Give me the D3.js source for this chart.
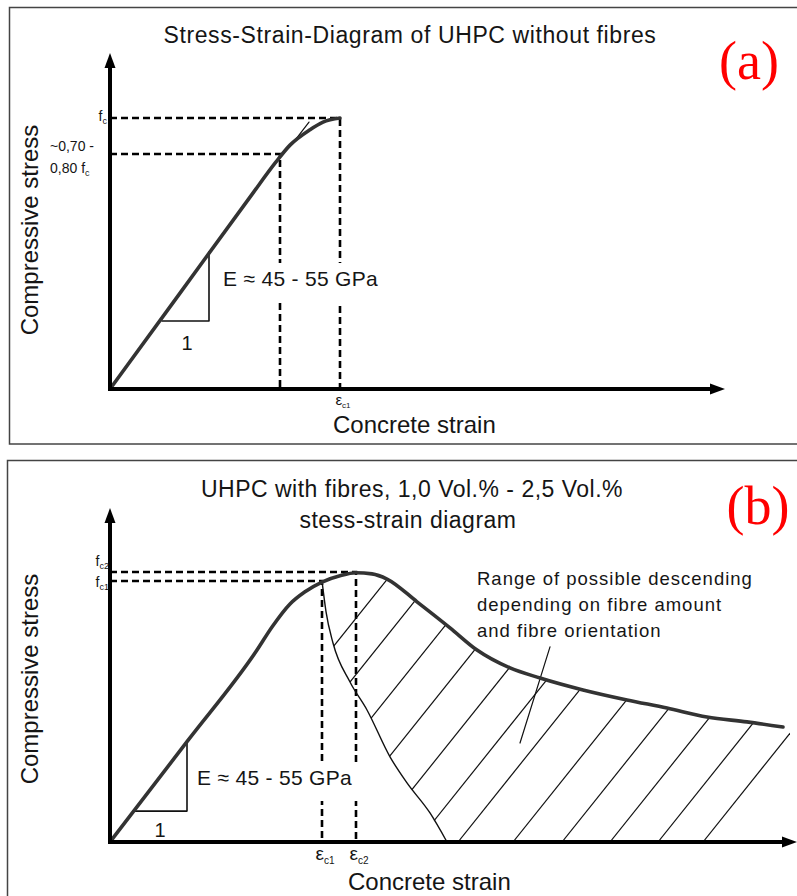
<!DOCTYPE html>
<html>
<head>
<meta charset="utf-8">
<script src="https://cdn.jsdelivr.net/npm/d3@7"></script>
<style>
  body { margin: 0; background: #fff; }
  svg { display: block; }
  text { font-family: "Liberation Sans", Arial, sans-serif; fill: #151515; }
  text.tag { font-family: "Liberation Serif", "Times New Roman", serif; fill: #f00; }
</style>
</head>
<body>
<div id="chart"></div>
<script>
// ---- panel (a): UHPC without fibres (strain units, stress as fraction of fc)
var curveA    = [[0, 0], [0.70, 0.354], [1.40, 0.708], [1.66, 0.838], [1.80, 0.900], [2.00, 0.957], [2.13, 0.985], [2.30, 1.0]];
var tangentA  = [[1.83, 0.908], [1.99, 0.985]];
var triangleA = [[0.52, 0.251], [0.99, 0.251], [0.99, 0.506]];
var fcA = 1.0, fcLowA = 0.867, ec1A = 2.30, eLowA = 1.70;

// ---- panel (b): UHPC with fibres
var upperB = [[0, 0], [0.77, 0.37], [1.47, 0.708], [1.62, 0.793], [1.80, 0.878], [1.95, 0.923], [2.12, 0.959],
              [2.30, 0.982], [2.46, 0.993], [2.62, 0.989], [2.77, 0.970], [3.07, 0.886], [3.40, 0.790], [3.67, 0.708],
              [4.00, 0.642], [4.30, 0.605], [4.73, 0.561], [5.17, 0.524], [5.57, 0.494], [5.97, 0.461], [6.37, 0.443], [6.73, 0.424]];
var lowerB = [[2.12, 0.963], [2.16, 0.85], [2.23, 0.734], [2.40, 0.590], [2.57, 0.487], [2.80, 0.314], [2.97, 0.218], [3.20, 0.107], [3.37, 0]];
var hatchB = [0.67, 1.12, 1.62, 2.11, 2.60, 3.07, 3.48, 4.03, 4.52, 5.00, 5.48, 5.93];
var hatchSlope = 0.461;
var pointerB  = [[4.40, 0.720], [4.10, 0.365]];
var triangleB = [[0.23, 0.114], [0.77, 0.114], [0.77, 0.369]];
var fc1B = 0.963, fc2B = 0.996, ec1B = 2.12, ec2B = 2.46;

var titleA = ["Stress-Strain-Diagram of UHPC without fibres"];
var titleB = ["UHPC with fibres, 1,0 Vol.% - 2,5 Vol.%", "stess-strain diagram"];
var noteB  = ["Range of possible descending", "depending on fibre amount", "and fibre orientation"];
var modulusLabel = "E \u2248 45 - 55 GPa";

var svg = d3.select("#chart").append("svg").attr("width", 797).attr("height", 896);

// frames
svg.append("rect").attr("x", 9.5).attr("y", 7.5).attr("width", 800).attr("height", 436.5)
    .attr("fill", "none").attr("stroke", "#444").attr("stroke-width", 1.5);
svg.append("rect").attr("x", 7.5).attr("y", 460.5).attr("width", 800).attr("height", 460)
    .attr("fill", "none").attr("stroke", "#444").attr("stroke-width", 1.5);

function setupPanel(o) {
    var x = d3.scaleLinear().domain([0, o.xMax]).range([110, o.xTip]);
    var y = d3.scaleLinear().domain([0, o.yMax]).range([o.y0, o.yTip]);
    return { x: x, y: y, g: svg.append("g") };
}

function drawAxes(p) {
    var x = p.x, y = p.y, g = p.g;
    var x0 = x(0), y0 = y(0), xt = x.range()[1], yt = y.range()[1];
    g.append("line").attr("x1", x0).attr("y1", y0 + 2).attr("x2", x0).attr("y2", yt + 10)
        .attr("stroke", "#000").attr("stroke-width", 4);
    g.append("line").attr("x1", x0 - 2).attr("y1", y0).attr("x2", xt - 10).attr("y2", y0)
        .attr("stroke", "#000").attr("stroke-width", 4);
    g.append("path").attr("d", "M" + x0 + "," + yt + "L" + (x0 - 5.5) + "," + (yt + 15) + "L" + (x0 + 5.5) + "," + (yt + 15) + "Z")
        .attr("fill", "#000");
    g.append("path").attr("d", "M" + xt + "," + y0 + "L" + (xt - 15) + "," + (y0 - 5.5) + "L" + (xt - 15) + "," + (y0 + 5.5) + "Z")
        .attr("fill", "#000");
}

function dashed(p, pts) {
    p.g.append("path").attr("d", d3.line().x(function(d){ return p.x(d[0]); }).y(function(d){ return p.y(d[1]); })(pts))
        .attr("fill", "none").attr("stroke", "#000").attr("stroke-width", 2.6).attr("stroke-dasharray", "7,4");
}

function plain(p, pts, width, colour, curve) {
    var line = d3.line().x(function(d){ return p.x(d[0]); }).y(function(d){ return p.y(d[1]); });
    if (curve) line.curve(curve);
    return p.g.append("path").attr("d", line(pts))
        .attr("fill", "none").attr("stroke", colour).attr("stroke-width", width)
        .attr("stroke-linejoin", "round").attr("stroke-linecap", "round");
}

function subLabel(g, main, sub, xx, yy, size, subSize, anchor) {
    var t = g.append("text").attr("x", xx).attr("y", yy).attr("font-size", size).attr("text-anchor", anchor || "start");
    t.append("tspan").text(main);
    t.append("tspan").attr("font-size", subSize).attr("dy", size * 0.22).text(sub);
    return t;
}

function modulusText(g, xx, yy) {
    var t = g.append("text").attr("x", xx).attr("y", yy).attr("font-size", 21)
        .attr("letter-spacing", 0.3).text(modulusLabel);
    var b = t.node().getBBox();
    g.insert("rect", function(){ return t.node(); })
        .attr("x", b.x - 3).attr("y", yy - 23).attr("width", b.width + 10).attr("height", 39).attr("fill", "#fff");
}

function axisTitles(g, yCenter, xStart, xBase) {
    g.append("text").attr("x", xStart).attr("y", xBase).attr("font-size", 24).text("Concrete strain");
    g.append("text").attr("transform", "translate(38," + yCenter + ") rotate(-90)")
        .attr("text-anchor", "middle").attr("font-size", 24).text("Compressive stress");
}

// ================= panel (a)
var pa = setupPanel({ xMax: 6.15, xTip: 725, yMax: 1.24, y0: 389, yTip: 53 });
dashed(pa, [[0, fcA], [ec1A, fcA], [ec1A, 0]]);
dashed(pa, [[0, fcLowA], [eLowA, fcLowA], [eLowA, 0]]);
modulusText(pa.g, 223, 286);
plain(pa, triangleA, 1.6, "#111");
plain(pa, tangentA, 1.2, "#111");
plain(pa, curveA, 3.6, "#333", d3.curveMonotoneX);
drawAxes(pa);

pa.g.selectAll(".title").data(titleA).enter().append("text")
    .attr("x", 410).attr("y", function(d, i){ return 43 + i * 31; })
    .attr("text-anchor", "middle").attr("font-size", 23).attr("letter-spacing", 0.6)
    .text(function(d){ return d; });
pa.g.append("text").attr("class", "tag").attr("x", 749).attr("y", 79).attr("text-anchor", "middle")
    .attr("font-size", 54).text("(a)");
subLabel(pa.g, "f", "c", 107, pa.y(fcA) + 3, 14, 9, "end");
pa.g.append("text").attr("x", 50).attr("y", 151).attr("font-size", 14).text("~0,70 -");
subLabel(pa.g, "0,80 f", "c", 50, 173, 14, 9);
pa.g.append("text").attr("x", 187).attr("y", 350).attr("text-anchor", "middle").attr("font-size", 20).text("1");
subLabel(pa.g, "\u03b5", "c1", pa.x(ec1A) + 3, 405, 15, 8, "middle");
axisTitles(pa.g, 230, 333, 433);

// ================= panel (b)
var pb = setupPanel({ xMax: 6.87, xTip: 797, yMax: 1.232, y0: 842, yTip: 508 });
dashed(pb, [[0, fc2B], [ec2B, fc2B], [ec2B, 0]]);
dashed(pb, [[0, fc1B], [ec1B, fc1B], [ec1B, 0]]);
modulusText(pb.g, 197, 785);

// hatch region: below upper curve, above lower boundary
var defs = svg.append("defs");
var areaUpper = d3.area().curve(d3.curveMonotoneX)
    .x(function(d){ return pb.x(d[0]); }).y0(pb.y(0)).y1(function(d){ return pb.y(d[1]); });
var areaLower = d3.area().curve(d3.curveMonotoneX)
    .x(function(d){ return pb.x(d[0]); }).y0(function(d){ return pb.y(d[1]); }).y1(pb.y(1.2));
defs.append("clipPath").attr("id", "clipUpper").append("path")
    .attr("d", areaUpper(upperB.concat([[6.80, 0.40]])));
defs.append("clipPath").attr("id", "clipLower").append("path")
    .attr("d", areaLower(lowerB.concat([[6.80, 0]])));
var hatchG = pb.g.append("g").attr("clip-path", "url(#clipUpper)")
    .append("g").attr("clip-path", "url(#clipLower)");
hatchG.selectAll("line").data(hatchB).enter().append("line")
    .attr("x1", function(d){ return pb.x(d); }).attr("y1", pb.y(0))
    .attr("x2", function(d){ return pb.x(d + 1.2 / hatchSlope); }).attr("y2", pb.y(1.2))
    .attr("stroke", "#111").attr("stroke-width", 1.2);

plain(pb, lowerB, 1.4, "#111", d3.curveMonotoneX);
plain(pb, pointerB, 1.2, "#111");
plain(pb, triangleB, 1.6, "#111");
plain(pb, upperB, 3.6, "#333", d3.curveMonotoneX);
drawAxes(pb);

pb.g.selectAll(".title").data(titleB).enter().append("text")
    .attr("x", function(d, i){ return i ? 408 : 412; }).attr("y", function(d, i){ return 497 + i * 31; })
    .attr("text-anchor", "middle").attr("font-size", 23).attr("letter-spacing", 0.5)
    .text(function(d){ return d; });
pb.g.append("text").attr("class", "tag").attr("x", 758).attr("y", 524).attr("text-anchor", "middle")
    .attr("font-size", 54).text("(b)");
pb.g.selectAll(".note").data(noteB).enter().append("text")
    .attr("x", 477).attr("y", function(d, i){ return 585 + i * 26; })
    .attr("font-size", 18.5).attr("letter-spacing", 1).text(function(d){ return d; });
subLabel(pb.g, "f", "c2", 109, pb.y(fc2B) - 6, 14, 9, "end");
subLabel(pb.g, "f", "c1", 109, pb.y(fc1B) + 6, 14, 9, "end");
pb.g.append("text").attr("x", 160).attr("y", 837).attr("text-anchor", "middle").attr("font-size", 20).text("1");
subLabel(pb.g, "\u03b5", "c1", pb.x(ec1B) + 3, 860, 19, 10, "middle");
subLabel(pb.g, "\u03b5", "c2", pb.x(ec2B) + 3, 860, 19, 10, "middle");
axisTitles(pb.g, 679, 348, 890);
</script>
</body>
</html>
